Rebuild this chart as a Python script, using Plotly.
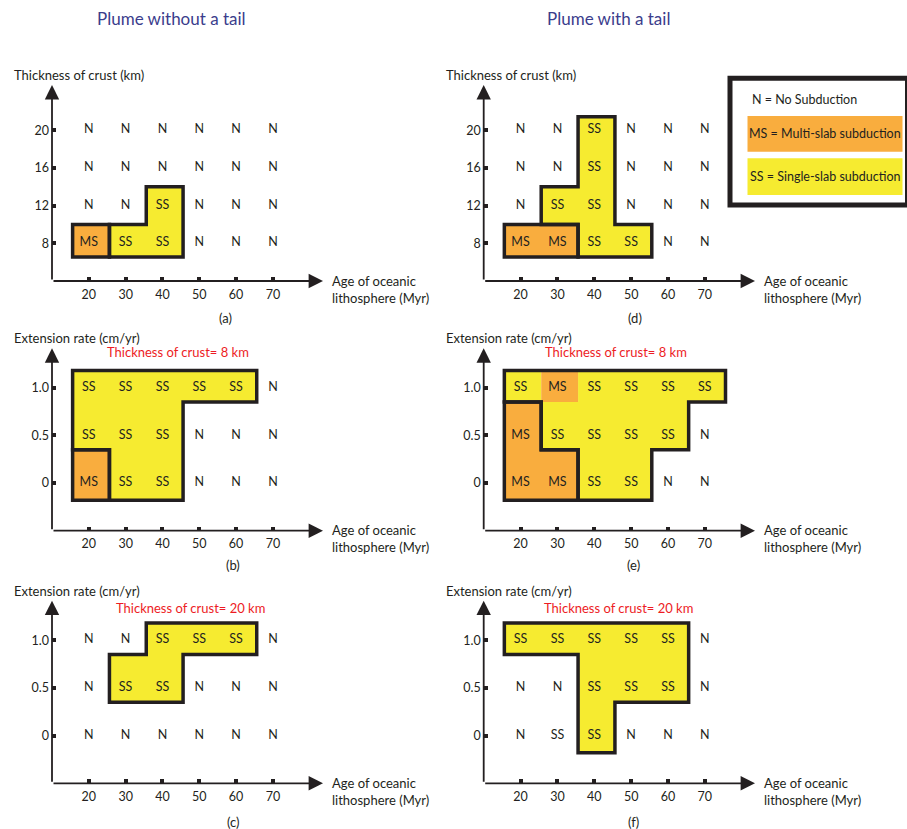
import plotly.graph_objects as go

W, H = 907, 829
FONT = "Lato"
DARK = "#231f20"
YELLOW = "#f6eb30"
ORANGE = "#f9ad3e"
RED = "#ed1c24"
TITLE_C = "#3b3d8c"

# ---------------- data ----------------
ages = [20, 30, 40, 50, 60, 70]
age_ticks = ["20", "30", "40", "50", "60", "70"]
crust_km = [8, 12, 16, 20]
crust_ticks = ["8", "12", "16", "20"]
ext_rate = [0.0, 0.5, 1.0]
ext_ticks = ["0", "0.5", "1.0"]

# rows listed from bottom (lowest value) to top
labels_a = [["MS", "SS", "SS", "N", "N", "N"],
            ["N", "N", "SS", "N", "N", "N"],
            ["N", "N", "N", "N", "N", "N"],
            ["N", "N", "N", "N", "N", "N"]]
fill_a = [[2, 1, 1, 0, 0, 0], [0, 0, 1, 0, 0, 0], [0] * 6, [0] * 6]
region_a = [[2, 1, 1, 0, 0, 0], [0, 0, 1, 0, 0, 0], [0] * 6, [0] * 6]

labels_d = [["MS", "MS", "SS", "SS", "N", "N"],
            ["N", "SS", "SS", "N", "N", "N"],
            ["N", "N", "SS", "N", "N", "N"],
            ["N", "N", "SS", "N", "N", "N"]]
fill_d = [[2, 2, 1, 1, 0, 0], [0, 1, 1, 0, 0, 0], [0, 0, 1, 0, 0, 0], [0, 0, 1, 0, 0, 0]]
region_d = [[2, 2, 1, 1, 0, 0], [0, 1, 1, 0, 0, 0], [0, 0, 1, 0, 0, 0], [0, 0, 1, 0, 0, 0]]

labels_b = [["MS", "SS", "SS", "N", "N", "N"],
            ["SS", "SS", "SS", "N", "N", "N"],
            ["SS", "SS", "SS", "SS", "SS", "N"]]
fill_b = [[2, 1, 1, 0, 0, 0], [1, 1, 1, 0, 0, 0], [1, 1, 1, 1, 1, 0]]
region_b = [[2, 1, 1, 0, 0, 0], [1, 1, 1, 0, 0, 0], [1, 1, 1, 1, 1, 0]]

labels_e = [["MS", "MS", "SS", "SS", "N", "N"],
            ["MS", "SS", "SS", "SS", "SS", "N"],
            ["SS", "MS", "SS", "SS", "SS", "SS"]]
fill_e = [[2, 2, 1, 1, 0, 0], [2, 1, 1, 1, 1, 0], [1, 2, 1, 1, 1, 1]]
region_e = [[2, 2, 1, 1, 0, 0], [2, 1, 1, 1, 1, 0], [1, 1, 1, 1, 1, 1]]

labels_c = [["N", "N", "N", "N", "N", "N"],
            ["N", "SS", "SS", "N", "N", "N"],
            ["N", "N", "SS", "SS", "SS", "N"]]
fill_c = [[0] * 6, [0, 1, 1, 0, 0, 0], [0, 0, 1, 1, 1, 0]]
region_c = [[0] * 6, [0, 1, 1, 0, 0, 0], [0, 0, 1, 1, 1, 0]]

labels_f = [["N", "SS", "SS", "N", "N", "N"],
            ["N", "N", "SS", "SS", "SS", "N"],
            ["SS", "SS", "SS", "SS", "SS", "N"]]
fill_f = [[0, 0, 1, 0, 0, 0], [0, 0, 1, 1, 1, 0], [1, 1, 1, 1, 1, 0]]
region_f = [[0, 0, 1, 0, 0, 0], [0, 0, 1, 1, 1, 0], [1, 1, 1, 1, 1, 0]]

# ---------------- layout geometry (pixels) ----------------
LEFT_X = (52, 323)
RIGHT_X = (483.7, 755)
ROW_TOP = (85, 281)
ROW_MID = (348.3, 530.7)
ROW_BOT = (600.7, 783.3)
X_RANGE = [10, 83.6]
KM_RANGE = [4, 24.8]
EXT_RANGE = [-0.5, 1.414]

panels = [
    dict(xd=LEFT_X, yd=ROW_TOP, yv=crust_km, yt=crust_ticks, yr=KM_RANGE, lab=labels_a, fill=fill_a,
         reg=region_a, ytitle="Thickness of crust (km)", tag="(a)", tagpos=(225, 318), sub=None),
    dict(xd=RIGHT_X, yd=ROW_TOP, yv=crust_km, yt=crust_ticks, yr=KM_RANGE, lab=labels_d, fill=fill_d,
         reg=region_d, ytitle="Thickness of crust (km)", tag="(d)", tagpos=(635, 317.5), sub=None),
    dict(xd=LEFT_X, yd=ROW_MID, yv=ext_rate, yt=ext_ticks, yr=EXT_RANGE, lab=labels_b, fill=fill_b,
         reg=region_b, ytitle="Extension rate (cm/yr)", tag="(b)", tagpos=(233, 565),
         sub=("Thickness of crust= 8 km", 178, 352)),
    dict(xd=RIGHT_X, yd=ROW_MID, yv=ext_rate, yt=ext_ticks, yr=EXT_RANGE, lab=labels_e, fill=fill_e,
         reg=region_e, ytitle="Extension rate (cm/yr)", tag="(e)", tagpos=(633, 565),
         sub=("Thickness of crust= 8 km", 615.5, 352)),
    dict(xd=LEFT_X, yd=ROW_BOT, yv=ext_rate, yt=ext_ticks, yr=EXT_RANGE, lab=labels_c, fill=fill_c,
         reg=region_c, ytitle="Extension rate (cm/yr)", tag="(c)", tagpos=(233, 822),
         sub=("Thickness of crust= 20 km", 190.5, 607.7)),
    dict(xd=RIGHT_X, yd=ROW_BOT, yv=ext_rate, yt=ext_ticks, yr=EXT_RANGE, lab=labels_f, fill=fill_f,
         reg=region_f, ytitle="Extension rate (cm/yr)", tag="(f)", tagpos=(633, 822),
         sub=("Thickness of crust= 20 km", 618.7, 607.7)),
]


def PX(x):
    return x / W


def PY(y):
    return 1 - y / H


def label(text, x, y, size=12.5, color=DARK, xanchor="center", align="center"):
    return dict(text=text, x=PX(x), y=PY(y), xref="paper", yref="paper", xanchor=xanchor,
                yanchor="middle", align=align, showarrow=False,
                font=dict(family=FONT, size=size, color=color))


def boundary_loops(grid, val):
    edges = {}
    for j, row in enumerate(grid):
        for i, c in enumerate(row):
            if c == val:
                cs = [(i, j), (i + 1, j), (i + 1, j + 1), (i, j + 1)]
                for k in range(4):
                    a, b = cs[k], cs[(k + 1) % 4]
                    if (b, a) in edges:
                        del edges[(b, a)]
                    else:
                        edges[(a, b)] = True
    nxt = {}
    for a, b in edges:
        nxt.setdefault(a, []).append(b)
    loops = []
    while nxt:
        start = next(iter(nxt))
        loop = [start]
        cur = start
        while True:
            b = nxt[cur].pop()
            if not nxt[cur]:
                del nxt[cur]
            if b == start:
                break
            loop.append(b)
            cur = b
        loops.append(loop)
    return loops


def cell_edges(vals, frac, outer):
    e = [vals[0] - outer]
    for k in range(1, len(vals)):
        e.append(vals[k - 1] + frac * (vals[k] - vals[k - 1]))
    e.append(vals[-1] + outer)
    return e


fig = go.Figure()
annotations = []
shapes = []

for idx, p in enumerate(panels):
    n = "" if idx == 0 else str(idx + 1)
    xref, yref = "x" + n, "y" + n
    step = p["yv"][1] - p["yv"][0]
    frac = 0.5 if p["yv"] is crust_km else 0.7
    ey = cell_edges(p["yv"], frac, 0.36 * step)
    ex = [a - 5 + 0.6 for a in ages] + [ages[-1] + 5 + 0.6]

    # fills
    for val, col in ((1, YELLOW), (2, ORANGE)):
        xs, ys = [], []
        for loop in boundary_loops(p["fill"], val):
            for (i, j) in loop + [loop[0]]:
                xs.append(ex[i]); ys.append(ey[j])
            xs.append(None); ys.append(None)
        if xs:
            fig.add_trace(go.Scatter(x=xs, y=ys, mode="lines", fill="toself", fillcolor=col,
                                     line=dict(width=0, color=col), xaxis=xref, yaxis=yref,
                                     hoverinfo="skip", showlegend=False))
    # borders
    regs = sorted({v for row in p["reg"] for v in row if v})
    xs, ys = [], []
    for val in regs:
        for loop in boundary_loops(p["reg"], val):
            pts = [(ex[i], ey[j]) for (i, j) in loop]
            m = ((pts[0][0] + pts[1][0]) / 2, (pts[0][1] + pts[1][1]) / 2)
            seq = [m] + pts[1:] + [pts[0], m]
            for (x, y) in seq:
                xs.append(x); ys.append(y)
            xs.append(None); ys.append(None)
    if xs:
        fig.add_trace(go.Scatter(x=xs, y=ys, mode="lines", line=dict(width=3.5, color=DARK),
                                 xaxis=xref, yaxis=yref, hoverinfo="skip", showlegend=False))
    # labels
    tx, ty, tt = [], [], []
    for j, row in enumerate(p["lab"]):
        for i, s in enumerate(row):
            tx.append(ages[i]); ty.append(p["yv"][j]); tt.append(s)
    fig.add_trace(go.Scatter(x=tx, y=ty, text=tt, mode="text",
                             textfont=dict(family=FONT, size=12.5, color=DARK),
                             xaxis=xref, yaxis=yref, hoverinfo="skip", showlegend=False,
                             cliponaxis=False))

    axcommon = dict(ticks="inside", ticklen=4, tickwidth=4, tickcolor=DARK, showgrid=False,
                    zeroline=False, showline=False, fixedrange=True,
                    tickfont=dict(family=FONT, size=12.5, color=DARK))
    fig.layout["xaxis" + n] = dict(domain=[PX(p["xd"][0]), PX(p["xd"][1])], range=X_RANGE,
                                   tickvals=ages, ticktext=age_ticks, anchor=yref,
                                   ticklabelstandoff=4, **axcommon)
    fig.layout["yaxis" + n] = dict(domain=[PY(p["yd"][1]), PY(p["yd"][0])], range=p["yr"],
                                   tickvals=p["yv"], ticktext=p["yt"], anchor=xref,
                                   ticklabelstandoff=2, **axcommon)

    # axis arrows
    y0, y1 = p["yr"]
    annotations.append(dict(x=X_RANGE[1], y=y0, ax=X_RANGE[0], ay=y0, xref=xref, yref=yref,
                            axref=xref, ayref=yref, showarrow=True, arrowhead=2, arrowsize=1.6,
                            arrowwidth=1.8, arrowcolor=DARK, standoff=0, text=""))
    annotations.append(dict(x=X_RANGE[0], y=y1, ax=X_RANGE[0], ay=y0, xref=xref, yref=yref,
                            axref=xref, ayref=yref, showarrow=True, arrowhead=2, arrowsize=1.6,
                            arrowwidth=1.8, arrowcolor=DARK, standoff=0, text=""))

    # axis titles
    ytx = 12 if p["xd"] is LEFT_X else 444
    annotations.append(label(p["ytitle"], ytx, p["yd"][0] - 10, size=13, xanchor="left"))
    xtx = 330 if p["xd"] is LEFT_X else 761.7
    annotations.append(label("Age of oceanic<br>lithosphere (Myr)", xtx, p["yd"][1] + 8,
                             size=13, xanchor="left", align="left"))
    annotations.append(label(p["tag"], p["tagpos"][0], p["tagpos"][1], size=13))
    if p["sub"]:
        s, sx, sy = p["sub"]
        annotations.append(label(s, sx, sy, size=13, color=RED))

# column titles
annotations.append(label("Plume without a tail", 171, 18, size=17, color=TITLE_C))
annotations.append(label("Plume with a tail", 608, 18, size=17, color=TITLE_C))

# key box
shapes.append(dict(type="rect", xref="paper", yref="paper", x0=PX(747.5), x1=PX(902.5),
                   y0=PY(151.7), y1=PY(116), fillcolor=ORANGE, line=dict(width=0)))
shapes.append(dict(type="rect", xref="paper", yref="paper", x0=PX(747.5), x1=PX(902.5),
                   y0=PY(195), y1=PY(158.3), fillcolor=YELLOW, line=dict(width=0)))
shapes.append(dict(type="rect", xref="paper", yref="paper", x0=PX(730), x1=PX(907.5),
                   y0=PY(205), y1=PY(78.3), line=dict(width=5, color=DARK)))
annotations.append(label("N = No Subduction", 750, 99, size=12.5, xanchor="left"))
annotations.append(label("MS = Multi-slab subduction", 825, 133.5, size=12.5))
annotations.append(label("SS = Single-slab subduction", 825, 176.5, size=12.5))

fig.update_layout(width=W, height=H, margin=dict(l=0, r=0, t=0, b=0), paper_bgcolor="white",
                  plot_bgcolor="rgba(0,0,0,0)", showlegend=False, annotations=annotations,
                  shapes=shapes, font=dict(family=FONT, color=DARK))
fig.write_html("out.html", config={"displayModeBar": False, "staticPlot": True},
               post_script="document.body.style.margin='0px';")
